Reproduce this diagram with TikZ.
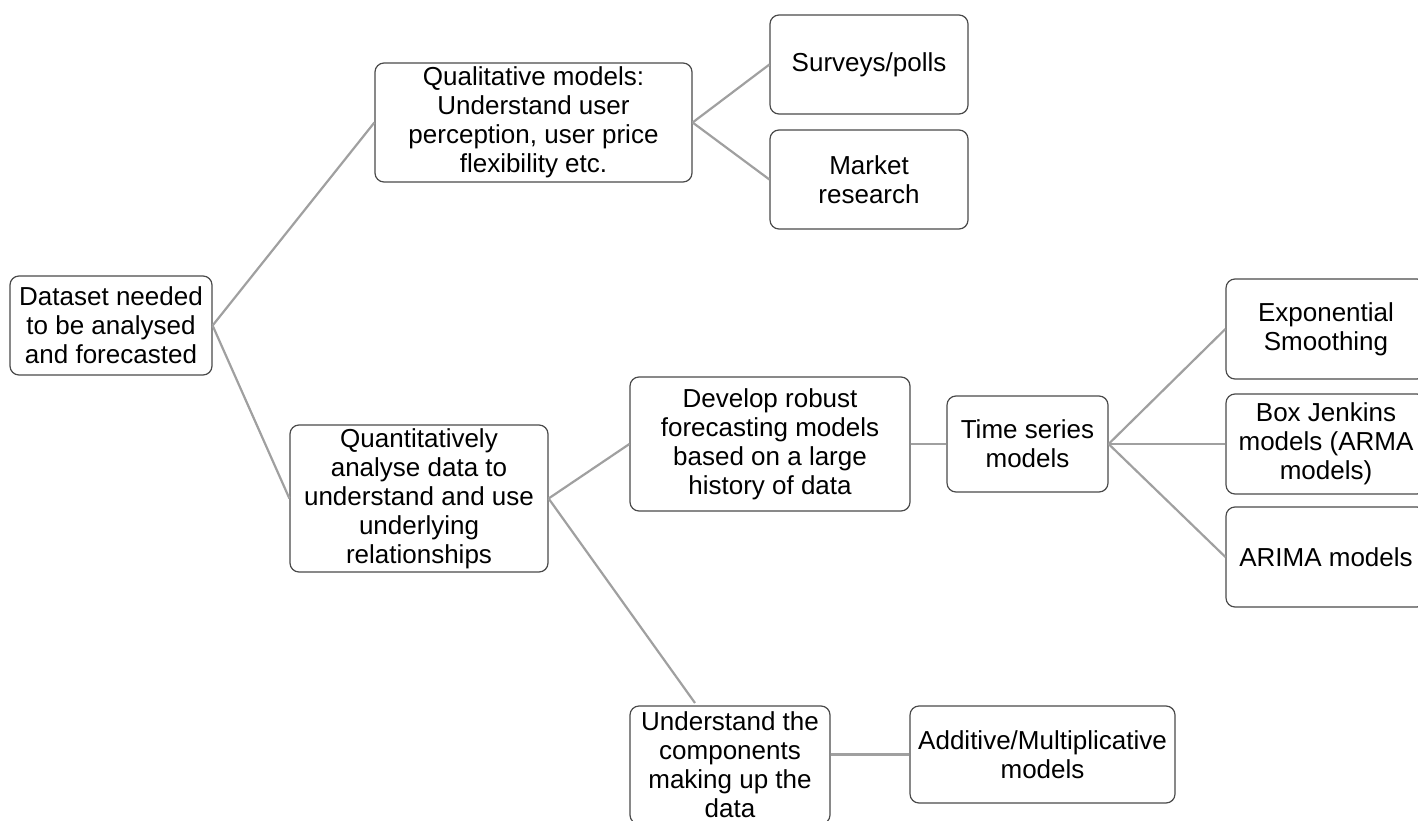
\documentclass[tikz,border=0pt]{standalone}
\usepackage{fontspec}
\setmainfont{Liberation Sans}
\definecolor{boxline}{HTML}{4A4A4A}
\definecolor{linkgray}{HTML}{A0A0A0}
\begin{document}
\begin{tikzpicture}[x=1pt,y=-1pt,
  box/.style 2 args={draw=boxline, line width=1.2pt, rounded corners=9pt, fill=white,
    align=center, inner sep=0pt, minimum width=#1, minimum height=#2,
    font=\fontsize{26}{29}\selectfont},
  link/.style={draw=linkgray, line width=2.2pt}]
\clip (0,0) rectangle (1418,821);

% level 0
\node[box={202pt}{99pt}] (data) at (111,325.5) {Dataset needed\\to be analysed\\and forecasted};

% level 1
\node[box={317pt}{119pt}] (qual) at (533.5,122.5) {Qualitative models:\\Understand user\\perception, user price\\flexibility etc.};
\node[box={258pt}{147pt}] (quant) at (419,498.5) {Quantitatively\\analyse data to\\understand and use\\underlying\\relationships};

% qualitative branch
\node[box={198pt}{99pt}] (survey) at (869,64.5) {Surveys/polls};
\node[box={198pt}{99pt}] (market) at (869,179.5) {Market\\research};

% quantitative branch
\node[box={280pt}{134pt}] (robust) at (770,444) {Develop robust\\forecasting models\\based on a large\\history of data};
\node[box={161pt}{96pt}] (tseries) at (1027.5,444) {Time series\\models};
\node[box={200pt}{100pt}] (expo) at (1326,329) {Exponential\\Smoothing};
\node[box={200pt}{100pt}] (boxj) at (1326,444) {Box Jenkins\\models (ARMA\\models)};
\node[box={200pt}{100pt}] (arima) at (1326,557) {ARIMA models};
\node[box={200pt}{118pt}] (comp) at (730,765) {Understand the\\components\\making up the\\data};
\node[box={265pt}{97pt}] (addmul) at (1042.5,754.5) {Additive/Multiplicative\\models};

\coordinate (comptip) at (695,703);

% connectors
\draw[link] (data.east) -- (qual.west);
\draw[link] (data.east) -- (quant.west);
\draw[link] (qual.east) -- (survey.west);
\draw[link] (qual.east) -- (market.west);
\draw[link] (quant.east) -- (robust.west);
\draw[link] (quant.east) -- (comptip);
\draw[link] (robust.east) -- (tseries.west);
\draw[link] (tseries.east) -- (expo.west);
\draw[link] (tseries.east) -- (boxj.west);
\draw[link] (tseries.east) -- (arima.west);
\draw[link] (comp.east |- addmul.west) -- (addmul.west);
\end{tikzpicture}
\end{document}
